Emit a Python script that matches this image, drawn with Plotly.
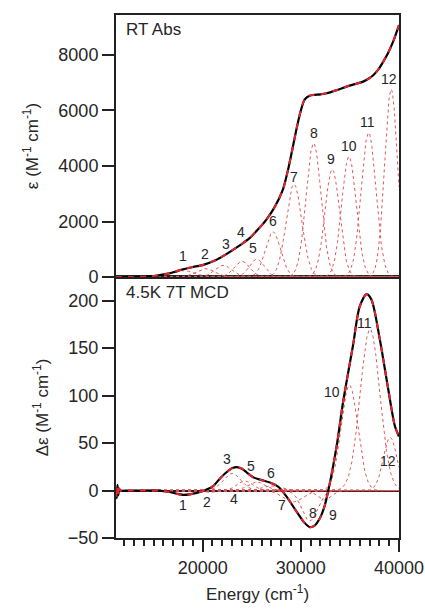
import numpy as np
import plotly.graph_objects as go

# ---- Room-temperature absorption (top panel) ----
abs_energy = [11170, 13000, 14500, 15500, 16300, 17000, 18000, 19000, 20000, 21350,
              22200, 23050, 23900, 24750, 25600, 26450, 27300, 28150, 28750, 29570,
              30000, 30400, 30900, 31300, 32000, 32650, 33700, 34650, 35500, 36350,
              37000, 37400, 37900, 38400, 38900, 39400, 40000]
abs_eps = [0, 0, 20, 60, 110, 170, 280, 360, 430, 610,
           780, 970, 1170, 1390, 1700, 2050, 2500, 3130, 3950, 5350,
           6000, 6400, 6530, 6560, 6580, 6620, 6740, 6860, 6950, 7040,
           7170, 7280, 7480, 7760, 8080, 8480, 9080]

# Gaussian components of the absorption fit: centre (cm-1), height, sigma (cm-1)
abs_band_center = [18000, 20300, 22100, 24000, 25500, 27150, 29300, 31300, 33200, 34900, 36900, 39200]
abs_band_height = [230, 300, 420, 560, 640, 1630, 3340, 4820, 3880, 4340, 5200, 6760]
abs_band_sigma = [1150, 950, 850, 800, 750, 780, 800, 760, 740, 740, 750, 660]

# ---- 4.5 K, 7 T MCD (bottom panel) ----
mcd_energy = [11170, 11250, 11320, 11400, 11480, 11600, 12500, 14000, 15500, 16600,
              17400, 18000, 18700, 19400, 20400, 21100, 21750, 22400, 23100, 23600,
              24000, 24500, 25150, 26000, 26850, 27700, 28550, 29550, 30300, 30900,
              31400, 31950, 32400, 32800, 33650, 34300, 35300, 36000, 36700, 37200,
              38050, 38900, 39580, 40000]
mcd_deps = [0, -8, 6, -5, 2, 0, 0, 0, 0, -1.5,
            -3.5, -4.5, -4, -2.5, 1, 5, 12.5, 19, 24, 24.5,
            23, 19, 14, 11, 8.5, 4, -6.5, -22, -33, -38.5,
            -37, -29, -17, 0, 47, 93, 152, 194, 207, 201,
            159, 107, 68, 57]

mcd_band_center = [18000, 20600, 23000, 24300, 25500, 27000, 29200, 30900, 32400, 34950, 37050, 39100]
mcd_band_height = [-4.5, -2, 18, 10, 9, 5, -12, -32, -10, 111, 170, 56]
mcd_band_sigma = [1000, 600, 900, 800, 900, 900, 1000, 800, 700, 850, 1000, 700]

band_names = [str(i) for i in range(1, 13)]

# label anchor points (energy, value) for the band numbers
abs_label_x = [17960, 20264, 22372, 23900, 25090, 27127, 29266, 31302, 33065, 34897, 36760, 38940]
abs_label_y = [757, 829, 1189, 1610, 1034, 2029, 3615, 5201, 4241, 4732, 5597, 7146]
mcd_label_x = [17960, 20406, 22440, 23185, 24886, 26920, 28045, 31200, 33300, 33135, 36516, 38900]
mcd_label_y = [-15.4, -11.8, 32.8, -9.1, 25.9, 18.8, -15.4, -24.1, -25.9, 104, 177, 30.7]

X_RANGE = [11170, 40000]
FONT = "Liberation Sans, Arial, sans-serif"
TXT = "#262626"
BAND_RED = "#e2575c"
FIT_RED = "#e3262d"

grid = np.linspace(X_RANGE[0], X_RANGE[1], 700)


def gauss(c, h, s):
    return h * np.exp(-((grid - c) ** 2) / (2.0 * s * s))


fig = go.Figure()

# component bands
for c, h, s in zip(abs_band_center, abs_band_height, abs_band_sigma):
    fig.add_trace(go.Scatter(x=grid, y=gauss(c, h, s), mode="lines", xaxis="x2", yaxis="y2",
                             line=dict(color=BAND_RED, width=1, dash="dot"), showlegend=False,
                             hoverinfo="skip"))
for c, h, s in zip(mcd_band_center, mcd_band_height, mcd_band_sigma):
    fig.add_trace(go.Scatter(x=grid, y=gauss(c, h, s), mode="lines", xaxis="x", yaxis="y",
                             line=dict(color=BAND_RED, width=1, dash="dot"), showlegend=False,
                             hoverinfo="skip"))

# experimental spectra (black) with the fit overlaid (red dashes)
for xs, ys, xa, ya in [(abs_energy, abs_eps, "x2", "y2"), (mcd_energy, mcd_deps, "x", "y")]:
    fig.add_trace(go.Scatter(x=xs, y=ys, mode="lines", xaxis=xa, yaxis=ya,
                             line=dict(color="black", width=2.2, shape="spline", smoothing=0.8),
                             showlegend=False))
    fig.add_trace(go.Scatter(x=xs, y=ys, mode="lines", xaxis=xa, yaxis=ya,
                             line=dict(color=FIT_RED, width=2, shape="spline", smoothing=0.8,
                                       dash="6px,6px"),
                             showlegend=False))

annotations = []
for name, x, y in zip(band_names, abs_label_x, abs_label_y):
    annotations.append(dict(x=x, y=y, xref="x2", yref="y2", text=name, showarrow=False,
                            font=dict(size=14, color=TXT, family=FONT)))
for name, x, y in zip(band_names, mcd_label_x, mcd_label_y):
    annotations.append(dict(x=x, y=y, xref="x", yref="y", text=name, showarrow=False,
                            font=dict(size=14, color=TXT, family=FONT)))
annotations.append(dict(x=0.028, y=0.995, xref="paper", yref="paper", text="RT Abs",
                        showarrow=False, xanchor="left", yanchor="top",
                        font=dict(size=17, color=TXT, family=FONT)))
annotations.append(dict(x=0.028, y=0.492, xref="paper", yref="paper", text="4.5K 7T MCD",
                        showarrow=False, xanchor="left", yanchor="top",
                        font=dict(size=17, color=TXT, family=FONT)))

axis_common = dict(showline=True, linecolor="#222", linewidth=2, showgrid=False,
                   automargin=False,
                   tickfont=dict(size=18, color=TXT, family=FONT), tickcolor="#222",
                   tickwidth=1.5)

split = 261 / 523

fig.update_layout(
    width=425, height=614,
    margin=dict(l=116, r=26, t=15, b=76),
    paper_bgcolor="white", plot_bgcolor="white",
    font=dict(family=FONT, color=TXT),
    annotations=annotations,
    xaxis=dict(**axis_common, domain=[0, 1], range=X_RANGE, anchor="y", mirror=True,
               ticks="outside", ticklen=12, tickvals=[20000, 30000, 40000],
               ticktext=["20000", "30000", "40000"], zeroline=False,
               minor=dict(dtick=1000, tick0=0, ticks="outside", ticklen=6,
                          tickcolor="#222", tickwidth=1.5, showgrid=False),
               title=dict(text="Energy (cm<sup>-1</sup>)", font=dict(size=17, color=TXT, family=FONT),
                          standoff=12)),
    xaxis2=dict(**axis_common, domain=[0, 1], range=X_RANGE, matches="x", anchor="y2",
                mirror=True, showticklabels=False, ticks="", zeroline=False),
    yaxis=dict(**axis_common, domain=[0, split], range=[-50, 225], anchor="x", mirror=True,
               ticks="outside", ticklen=12, tickvals=[-50, 0, 50, 100, 150, 200],
               zeroline=True, zerolinecolor="#222", zerolinewidth=1.8,
               title=dict(text="Δε (M<sup>-1</sup> cm<sup>-1</sup>)",
                          font=dict(size=17, color=TXT, family=FONT), standoff=15)),
    yaxis2=dict(**axis_common, domain=[split, 1], range=[0, 9441], anchor="x2", mirror=True,
                ticks="outside", ticklen=12, tickvals=[0, 2000, 4000, 6000, 8000],
                zeroline=False,
                title=dict(text="ε (M<sup>-1</sup> cm<sup>-1</sup>)",
                           font=dict(size=17, color=TXT, family=FONT), standoff=15)),
)

fig.write_html("out.html")
